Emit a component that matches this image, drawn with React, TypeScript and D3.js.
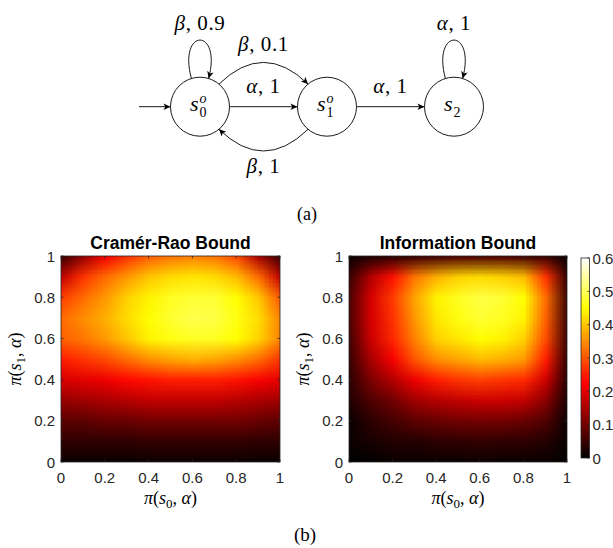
import React, { useMemo } from "react";
import * as d3 from "d3";

// sample points of both bound surfaces (x = pi(s0, alpha), y = pi(s1, alpha))
const gridPoints = [0, 0.1, 0.2, 0.3, 0.4, 0.5, 0.6, 0.7, 0.8, 0.9, 1];

// rows go from y = 0 (bottom) to y = 1 (top)
const crBound = [
  [0.01, 0.01, 0.01, 0.01, 0.01, 0.01, 0.01, 0.01, 0.01, 0.01, 0.01],
  [0.04, 0.04, 0.04, 0.04, 0.045, 0.045, 0.045, 0.045, 0.045, 0.04, 0.04],
  [0.08, 0.08, 0.09, 0.09, 0.1, 0.1, 0.1, 0.1, 0.1, 0.09, 0.08],
  [0.13, 0.14, 0.15, 0.16, 0.17, 0.17, 0.17, 0.17, 0.16, 0.15, 0.14],
  [0.19, 0.2, 0.21, 0.23, 0.24, 0.25, 0.25, 0.25, 0.24, 0.22, 0.2],
  [0.25, 0.27, 0.29, 0.32, 0.35, 0.37, 0.38, 0.37, 0.35, 0.32, 0.27],
  [0.31, 0.33, 0.36, 0.4, 0.44, 0.46, 0.47, 0.47, 0.45, 0.41, 0.34],
  [0.32, 0.35, 0.38, 0.42, 0.45, 0.48, 0.495, 0.49, 0.46, 0.42, 0.34],
  [0.28, 0.32, 0.36, 0.41, 0.44, 0.47, 0.48, 0.48, 0.45, 0.4, 0.3],
  [0.17, 0.27, 0.32, 0.36, 0.4, 0.42, 0.43, 0.42, 0.39, 0.32, 0.17],
  [0.05, 0.13, 0.22, 0.27, 0.31, 0.33, 0.34, 0.33, 0.29, 0.15, 0.05],
];

const infoBound = [
  [0, 0, 0.01, 0.01, 0.01, 0.01, 0.01, 0.01, 0.01, 0.01, 0],
  [0.01, 0.02, 0.03, 0.03, 0.04, 0.04, 0.045, 0.04, 0.04, 0.03, 0.01],
  [0.01, 0.04, 0.06, 0.08, 0.09, 0.1, 0.1, 0.1, 0.09, 0.07, 0.01],
  [0.03, 0.07, 0.1, 0.14, 0.16, 0.17, 0.18, 0.18, 0.17, 0.12, 0.02],
  [0.04, 0.11, 0.16, 0.21, 0.25, 0.27, 0.28, 0.27, 0.26, 0.18, 0.03],
  [0.05, 0.15, 0.22, 0.3, 0.35, 0.37, 0.39, 0.38, 0.36, 0.25, 0.04],
  [0.06, 0.18, 0.26, 0.34, 0.41, 0.43, 0.45, 0.44, 0.41, 0.29, 0.05],
  [0.07, 0.19, 0.27, 0.36, 0.43, 0.46, 0.48, 0.47, 0.44, 0.31, 0.05],
  [0.07, 0.19, 0.28, 0.37, 0.44, 0.47, 0.49, 0.48, 0.45, 0.32, 0.05],
  [0.05, 0.16, 0.24, 0.33, 0.38, 0.41, 0.42, 0.41, 0.39, 0.27, 0.04],
  [0.01, 0.03, 0.04, 0.05, 0.06, 0.07, 0.07, 0.07, 0.06, 0.05, 0.01],
];

const axisTicks = [0, 0.2, 0.4, 0.6, 0.8, 1];
const colorTicks = [0, 0.1, 0.2, 0.3, 0.4, 0.5, 0.6];

// the MDP of panel (a)
const states = [
  { id: "s0", sub: "0", sup: "o" },
  { id: "s1", sub: "1", sup: "o" },
  { id: "s2", sub: "2", sup: "" },
];
const transitions = [
  { from: "s0", to: "s0", action: "β", prob: "0.9", bend: false },
  { from: "s0", to: "s1", action: "β", prob: "0.1", bend: true },
  { from: "s0", to: "s1", action: "α", prob: "1", bend: false },
  { from: "s1", to: "s0", action: "β", prob: "1", bend: true },
  { from: "s1", to: "s2", action: "α", prob: "1", bend: false },
  { from: "s2", to: "s2", action: "α", prob: "1", bend: false },
];

// MATLAB "hot" colormap, caxis [0, 0.6]
const heat = d3
  .scaleLinear<string>()
  .domain([0, 0.225, 0.45, 0.6])
  .range(["#000000", "#ff0000", "#ffff00", "#ffffff"])
  .clamp(true);

const SANS = "'Liberation Sans', Arial, Helvetica, sans-serif";
const SERIF = "'Liberation Serif', 'Times New Roman', serif";
const AXIS = "#262626";

const TOP = 256;
const BOTTOM = 462;

// one pixel per grid point; the browser smooths it when scaled up (like shading interp)
const gridImage = (grid: number[][]) => {
  const n = gridPoints.length;
  const canvas = document.createElement("canvas");
  canvas.width = n;
  canvas.height = n;
  const ctx = canvas.getContext("2d")!;
  grid.forEach((row, j) =>
    row.forEach((v, i) => {
      ctx.fillStyle = heat(v);
      ctx.fillRect(i, n - 1 - j, 1, 1);
    })
  );
  return canvas.toDataURL();
};

const MathLabel = ({ sub, ...rest }: any) => (
  <text fontFamily={SERIF} fontSize={18} textAnchor="middle" {...rest}>
    <tspan fontStyle="italic">π</tspan>
    <tspan>(</tspan>
    <tspan fontStyle="italic">s</tspan>
    <tspan fontSize={13} dy={4}>{sub}</tspan>
    <tspan dy={-4}>{", "}</tspan>
    <tspan fontStyle="italic">α</tspan>
    <tspan>)</tspan>
  </text>
);

const Panel = ({ id, grid, x0, x1, title }: any) => {
  const x = d3.scaleLinear().domain([0, 1]).range([x0, x1]);
  const y = d3.scaleLinear().domain([0, 1]).range([BOTTOM, TOP]);
  const href = useMemo(() => gridImage(grid), [grid]);
  // pixel centres sit on the grid points
  const half = (gridPoints[1] - gridPoints[0]) / 2;
  const mid = (x0 + x1) / 2;
  const tick = 2.5;

  return (
    <g>
      <defs>
        <clipPath id={`clip-${id}`}>
          <rect x={x0} y={TOP} width={x1 - x0} height={BOTTOM - TOP} />
        </clipPath>
      </defs>
      <image
        href={href}
        x={x(-half)}
        y={y(1 + half)}
        width={x(1 + half) - x(-half)}
        height={y(-half) - y(1 + half)}
        preserveAspectRatio="none"
        clipPath={`url(#clip-${id})`}
        style={{ imageRendering: "auto" }}
      />
      <rect x={x0} y={TOP} width={x1 - x0} height={BOTTOM - TOP} fill="none" stroke={AXIS} strokeWidth={0.8} />
      {axisTicks.map((t) => (
        <g key={t} stroke={AXIS} strokeWidth={0.8}>
          <line x1={x(t)} x2={x(t)} y1={BOTTOM} y2={BOTTOM - tick} />
          <line x1={x(t)} x2={x(t)} y1={TOP} y2={TOP + tick} />
          <line x1={x0} x2={x0 + tick} y1={y(t)} y2={y(t)} />
          <line x1={x1} x2={x1 - tick} y1={y(t)} y2={y(t)} />
        </g>
      ))}
      {axisTicks.map((t) => (
        <text key={`xl${t}`} x={x(t)} y={BOTTOM + 21} textAnchor="middle" fontFamily={SANS} fontSize={15} fill={AXIS}>
          {d3.format("~g")(t)}
        </text>
      ))}
      {axisTicks.map((t) => (
        <text key={`yl${t}`} x={x0 - 6} y={y(t) + 5.5} textAnchor="end" fontFamily={SANS} fontSize={15} fill={AXIS}>
          {d3.format("~g")(t)}
        </text>
      ))}
      <text x={mid} y={249} textAnchor="middle" fontFamily={SANS} fontSize={17.5} fontWeight="bold" fill="#000">
        {title}
      </text>
      <MathLabel sub="0" x={mid} y={504} />
      <MathLabel sub="1" transform={`translate(${x0 - 40},${(TOP + BOTTOM) / 2}) rotate(-90)`} />
    </g>
  );
};

const Colorbar = ({ x0, x1 }: any) => {
  const c = d3.scaleLinear().domain([0, 0.6]).range([458, 258]);
  const stops = d3.range(0, 1.0001, 0.125);
  return (
    <g>
      <defs>
        <linearGradient id="cbar" x1="0" y1="1" x2="0" y2="0">
          {stops.map((s) => (
            <stop key={s} offset={s} stopColor={heat(s * 0.6)} />
          ))}
        </linearGradient>
      </defs>
      <rect x={x0} y={c(0.6)} width={x1 - x0} height={c(0) - c(0.6)} fill="url(#cbar)" stroke={AXIS} strokeWidth={0.8} />
      {colorTicks.map((t) => (
        <g key={t}>
          <line x1={x1} x2={x1 - 2} y1={c(t)} y2={c(t)} stroke={AXIS} strokeWidth={0.8} />
          <text x={x1 + 3} y={c(t) + 5.5} fontFamily={SANS} fontSize={15} fill={AXIS}>
            {d3.format("~g")(t)}
          </text>
        </g>
      ))}
    </g>
  );
};

const pt = (cx: number, cy: number, deg: number, r: number) => [
  cx + r * Math.cos((deg * Math.PI) / 180),
  cy - r * Math.sin((deg * Math.PI) / 180),
];

const Diagram = () => {
  const nx = d3.scalePoint<string>().domain(states.map((s) => s.id)).range([200, 454]);
  const cy = 106.7;
  const R = 29.5;

  const label = (t: any, lx: number, ly: number) => (
    <text x={lx} y={ly} textAnchor="middle" fontFamily={SERIF} fontSize={21} letterSpacing={0.6}>
      <tspan fontStyle="italic">{t.action}</tspan>
      {`, ${t.prob}`}
    </text>
  );

  return (
    <g>
      <defs>
        <marker id="tip" viewBox="-8 -4 9 8" refX={0} refY={0} markerWidth={9} markerHeight={8} markerUnits="userSpaceOnUse" orient="auto">
          <path d="M0,0 L-7,-3.3 L-5.2,0 L-7,3.3 Z" fill="#000" />
        </marker>
      </defs>
      {/* initial arrow */}
      <line x1={nx("s0")! - 61} x2={nx("s0")! - R} y1={cy} y2={cy} stroke="#000" strokeWidth={0.9} markerEnd="url(#tip)" />
      {transitions.map((t, k) => {
        const ax = nx(t.from)!;
        const bx = nx(t.to)!;
        if (t.from === t.to) {
          const [sx, sy] = pt(ax, cy, 107, R);
          const [ex, ey] = pt(ax, cy, 73, R);
          const [c1x, c1y] = pt(sx, sy, 105, 53);
          const [c2x, c2y] = pt(ex, ey, 75, 53);
          return (
            <g key={k}>
              <path d={`M${sx},${sy} C${c1x},${c1y} ${c2x},${c2y} ${ex},${ey}`} fill="none" stroke="#000" strokeWidth={0.9} markerEnd="url(#tip)" />
              {label(t, ax, cy - 77)}
            </g>
          );
        }
        const dir = Math.sign(bx - ax);
        // left normal of the direction of travel (screen coords)
        const ny = -dir;
        const mx = (ax + bx) / 2;
        if (t.bend) {
          const th = (50 * Math.PI) / 180;
          const sx = ax + dir * R * Math.cos(th);
          const sy = cy + ny * R * Math.sin(th);
          const ex = bx - dir * R * Math.cos(th);
          const ey = sy;
          const qy = cy + ny * 66;
          return (
            <g key={k}>
              <path d={`M${sx},${sy} Q${mx},${qy} ${ex},${ey}`} fill="none" stroke="#000" strokeWidth={0.9} markerEnd="url(#tip)" />
              {label(t, mx, cy + ny * 61 + 5)}
            </g>
          );
        }
        return (
          <g key={k}>
            <line x1={ax + dir * R} x2={bx - dir * R} y1={cy} y2={cy} stroke="#000" strokeWidth={0.9} markerEnd="url(#tip)" />
            {label(t, mx, cy + ny * 18.5 + 5)}
          </g>
        );
      })}
      {states.map((s) => {
        const x = nx(s.id)!;
        return (
          <g key={s.id}>
            <circle cx={x} cy={cy} r={R} fill="#fff" stroke="#000" strokeWidth={0.9} />
            <text x={x - 10} y={cy + 4} fontFamily={SERIF} fontSize={22}>
              <tspan fontStyle="italic">s</tspan>
              {s.sup && (
                <tspan fontSize={14} fontStyle="italic" dx={1} dy={-8}>
                  {s.sup}
                </tspan>
              )}
              <tspan fontSize={14} dx={s.sup ? -7 : 1} dy={s.sup ? 14 : 6}>
                {s.sub}
              </tspan>
            </text>
          </g>
        );
      })}
    </g>
  );
};

export default function App() {
  return (
    <svg
      width={613}
      height={548}
      viewBox="0 0 613 548"
      style={{ position: "absolute", left: 0, top: 0, background: "#fff" }}
    >
      <rect width={613} height={548} fill="#fff" />
      <Diagram />
      <text x={307} y={220} textAnchor="middle" fontFamily={SERIF} fontSize={18}>
        (a)
      </text>
      <Panel id="cr" grid={crBound} x0={61} x1={280} title="Cramér-Rao Bound" />
      <Panel id="info" grid={infoBound} x0={349} x1={567} title="Information Bound" />
      <Colorbar x0={581} x1={589.5} />
      <text x={305} y={541} textAnchor="middle" fontFamily={SERIF} fontSize={19}>
        (b)
      </text>
    </svg>
  );
}
